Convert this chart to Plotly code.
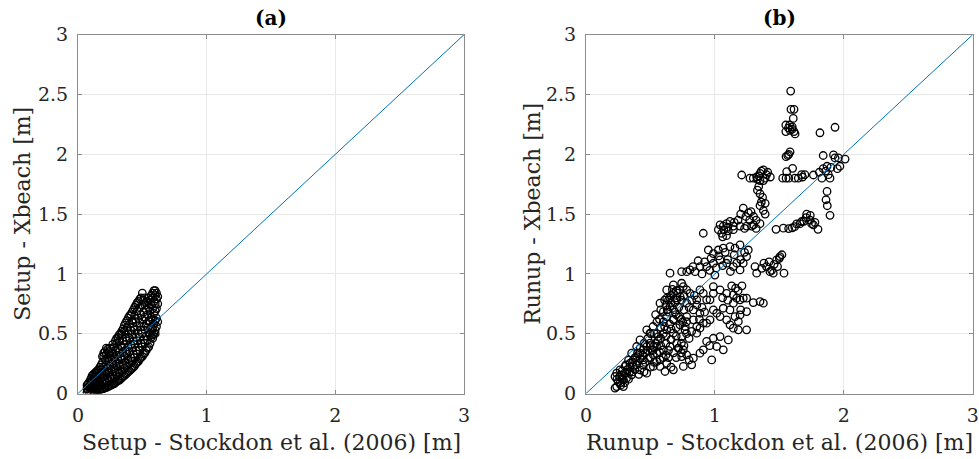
import plotly.graph_objects as go

# ---------------- data ----------------
# panel (a): setup, (Stockdon 2006, Xbeach) pairs
setup_pairs = [
    (0.07, 0.01), (0.07, 0.04), (0.07, 0.07),
    (0.08, 0.02), (0.08, 0.055), (0.08, 0.085),
    (0.09, 0.01), (0.09, 0.05), (0.09, 0.10),
    (0.10, 0.015), (0.10, 0.05), (0.10, 0.085), (0.10, 0.125),
    (0.11, 0.02), (0.11, 0.06), (0.11, 0.11), (0.11, 0.15),
    (0.12, 0.02), (0.12, 0.045), (0.12, 0.09), (0.12, 0.135), (0.12, 0.16),
    (0.13, 0.02), (0.13, 0.07), (0.13, 0.12), (0.13, 0.17),
    (0.14, 0.025), (0.14, 0.05), (0.14, 0.10), (0.14, 0.15), (0.14, 0.18),
    (0.15, 0.03), (0.15, 0.08), (0.15, 0.13), (0.15, 0.19),
    (0.16, 0.03), (0.16, 0.06), (0.16, 0.11), (0.16, 0.17), (0.16, 0.20),
    (0.17, 0.03), (0.17, 0.09), (0.17, 0.15), (0.17, 0.22),
    (0.18, 0.035), (0.18, 0.07), (0.18, 0.13), (0.18, 0.20), (0.18, 0.24),
    (0.19, 0.04), (0.19, 0.10), (0.19, 0.17), (0.19, 0.26), (0.19, 0.31),
    (0.20, 0.04), (0.20, 0.08), (0.20, 0.14), (0.20, 0.22), (0.20, 0.31), (0.20, 0.34),
    (0.21, 0.05), (0.21, 0.11), (0.21, 0.19), (0.21, 0.28), (0.21, 0.35),
    (0.22, 0.05), (0.22, 0.09), (0.22, 0.16), (0.22, 0.24), (0.22, 0.33), (0.22, 0.38),
    (0.23, 0.06), (0.23, 0.13), (0.23, 0.21), (0.23, 0.30), (0.23, 0.37),
    (0.24, 0.06), (0.24, 0.10), (0.24, 0.18), (0.24, 0.27), (0.24, 0.35),
    (0.25, 0.07), (0.25, 0.14), (0.25, 0.23), (0.25, 0.32), (0.25, 0.38),
    (0.26, 0.07), (0.26, 0.12), (0.26, 0.20), (0.26, 0.29), (0.26, 0.37),
    (0.27, 0.08), (0.27, 0.16), (0.27, 0.25), (0.27, 0.34), (0.27, 0.41),
    (0.28, 0.08), (0.28, 0.13), (0.28, 0.21), (0.28, 0.30), (0.28, 0.39),
    (0.29, 0.09), (0.29, 0.18), (0.29, 0.27), (0.29, 0.36), (0.29, 0.44),
    (0.30, 0.10), (0.30, 0.15), (0.30, 0.23), (0.30, 0.32), (0.30, 0.42), (0.30, 0.46),
    (0.31, 0.11), (0.31, 0.20), (0.31, 0.29), (0.31, 0.38), (0.31, 0.47),
    (0.32, 0.11), (0.32, 0.17), (0.32, 0.25), (0.32, 0.35), (0.32, 0.44), (0.32, 0.49),
    (0.33, 0.12), (0.33, 0.22), (0.33, 0.31), (0.33, 0.40), (0.33, 0.50),
    (0.34, 0.13), (0.34, 0.19), (0.34, 0.29), (0.34, 0.39), (0.34, 0.49), (0.34, 0.52),
    (0.35, 0.14), (0.35, 0.24), (0.35, 0.34), (0.35, 0.44), (0.35, 0.54),
    (0.36, 0.15), (0.36, 0.21), (0.36, 0.31), (0.36, 0.41), (0.36, 0.52), (0.36, 0.57),
    (0.37, 0.16), (0.37, 0.26), (0.37, 0.36), (0.37, 0.47), (0.37, 0.59),
    (0.38, 0.17), (0.38, 0.23), (0.38, 0.33), (0.38, 0.44), (0.38, 0.55), (0.38, 0.61),
    (0.39, 0.18), (0.39, 0.28), (0.39, 0.39), (0.39, 0.50), (0.39, 0.63),
    (0.40, 0.19), (0.40, 0.25), (0.40, 0.35), (0.40, 0.46), (0.40, 0.58), (0.40, 0.65),
    (0.41, 0.20), (0.41, 0.30), (0.41, 0.41), (0.41, 0.53), (0.41, 0.66),
    (0.42, 0.21), (0.42, 0.27), (0.42, 0.38), (0.42, 0.49), (0.42, 0.61), (0.42, 0.68),
    (0.43, 0.22), (0.43, 0.33), (0.43, 0.44), (0.43, 0.56), (0.43, 0.70),
    (0.44, 0.23), (0.44, 0.30), (0.44, 0.41), (0.44, 0.53), (0.44, 0.65), (0.44, 0.72),
    (0.45, 0.25), (0.45, 0.36), (0.45, 0.47), (0.45, 0.60), (0.45, 0.74),
    (0.46, 0.26), (0.46, 0.33), (0.46, 0.44), (0.46, 0.56), (0.46, 0.69), (0.46, 0.76),
    (0.47, 0.27), (0.47, 0.39), (0.47, 0.50), (0.47, 0.63), (0.47, 0.77),
    (0.48, 0.29), (0.48, 0.36), (0.48, 0.47), (0.48, 0.59), (0.48, 0.72), (0.48, 0.79),
    (0.49, 0.30), (0.49, 0.42), (0.49, 0.53), (0.49, 0.66), (0.49, 0.80), (0.50, 0.84),
    (0.50, 0.31), (0.50, 0.39), (0.50, 0.50), (0.50, 0.62), (0.50, 0.74),
    (0.51, 0.33), (0.51, 0.45), (0.51, 0.56), (0.51, 0.68), (0.51, 0.78),
    (0.52, 0.34), (0.52, 0.42), (0.52, 0.53), (0.52, 0.64), (0.52, 0.74), (0.52, 0.80),
    (0.53, 0.36), (0.53, 0.48), (0.53, 0.58), (0.53, 0.70), (0.53, 0.76),
    (0.54, 0.38), (0.54, 0.45), (0.54, 0.55), (0.54, 0.66), (0.54, 0.77),
    (0.55, 0.39), (0.55, 0.51), (0.55, 0.61), (0.55, 0.72), (0.55, 0.80),
    (0.56, 0.42), (0.56, 0.50), (0.56, 0.60), (0.56, 0.69), (0.56, 0.78),
    (0.57, 0.47), (0.57, 0.55), (0.57, 0.64), (0.57, 0.74), (0.57, 0.82),
    (0.58, 0.46), (0.58, 0.54), (0.58, 0.62), (0.58, 0.71), (0.58, 0.80), (0.58, 0.84),
    (0.59, 0.50), (0.59, 0.58), (0.59, 0.67), (0.59, 0.77), (0.59, 0.86),
    (0.60, 0.53), (0.60, 0.61), (0.60, 0.69), (0.60, 0.75), (0.60, 0.82), (0.60, 0.86),
    (0.61, 0.56), (0.61, 0.63), (0.61, 0.71), (0.61, 0.79), (0.61, 0.84),
    (0.62, 0.60), (0.62, 0.75), (0.62, 0.81), (0.58, 0.49), (0.60, 0.50),
]

# panel (b): runup, (Stockdon 2006, Xbeach) pairs
runup_pairs = [
    # upper group near 1.6
    (1.588, 2.529), (1.590, 2.376), (1.614, 2.376), (1.608, 2.300),
    (1.550, 2.245), (1.580, 2.245), (1.600, 2.230), (1.550, 2.190),
    (1.584, 2.200), (1.614, 2.190), (1.622, 2.170), (1.600, 2.210),
    (1.570, 2.220), (1.815, 2.180), (1.932, 2.226),
    (1.552, 1.980), (1.573, 2.000), (1.583, 2.020), (1.565, 1.990),
    (1.603, 1.883), (1.557, 1.855), (1.526, 1.800), (1.552, 1.800),
    (1.573, 1.800), (1.620, 1.800), (1.647, 1.800), (1.673, 1.830),
    (1.698, 1.830), (1.680, 1.810), (1.764, 1.827), (1.810, 1.850),
    (1.830, 1.800), (1.840, 1.880), (1.870, 1.900), (1.840, 1.990),
    (1.920, 1.995), (1.932, 1.970), (1.958, 1.970), (2.010, 1.960),
    (1.970, 1.900), (1.950, 1.880), (1.893, 1.800), (1.870, 1.690),
    (1.862, 1.620), (1.872, 1.570), (1.893, 1.490), (1.860, 1.860),
    (1.880, 1.830), (1.900, 1.890),
    # arc below the line near 1.4-1.5
    (1.474, 1.373), (1.531, 1.382), (1.572, 1.379), (1.619, 1.395),
    (1.634, 1.418), (1.673, 1.438), (1.707, 1.470), (1.738, 1.450),
    (1.764, 1.410), (1.800, 1.373), (1.712, 1.500), (1.776, 1.430),
    (1.600, 1.385), (1.660, 1.420), (1.690, 1.440), (1.740, 1.490),
    (1.750, 1.420),
    # group near (1.35, 1.8)
    (1.350, 1.840), (1.376, 1.870), (1.400, 1.830), (1.430, 1.810),
    (1.350, 1.780), (1.324, 1.810), (1.376, 1.780), (1.298, 1.800),
    (1.272, 1.800), (1.208, 1.827), (1.360, 1.860), (1.390, 1.800),
    (1.410, 1.850), (1.340, 1.820), (1.330, 1.790),
    (1.340, 1.730), (1.350, 1.670), (1.360, 1.600), (1.376, 1.530),
    (1.390, 1.500), (1.350, 1.570), (1.390, 1.590), (1.370, 1.640),
    (1.330, 1.700),
    # band near (1.1-1.35, 1.3-1.55)
    (1.220, 1.550), (1.260, 1.510), (1.300, 1.480), (1.320, 1.450),
    (1.350, 1.420), (1.320, 1.380), (1.285, 1.400), (1.246, 1.400),
    (1.195, 1.400), (1.143, 1.400), (1.117, 1.440), (1.091, 1.420),
    (1.065, 1.400), (1.040, 1.410), (1.027, 1.370), (1.052, 1.340),
    (1.104, 1.360), (1.143, 1.370), (1.240, 1.480), (1.280, 1.520),
    (1.180, 1.450), (1.100, 1.390), (1.070, 1.370), (1.200, 1.500),
    (1.300, 1.410), (1.230, 1.380), (1.060, 1.310), (1.090, 1.320),
    (1.150, 1.430), (1.270, 1.450), (0.910, 1.340),
    # around (1.0, 1.0-1.25)
    (0.949, 1.200), (0.988, 1.170), (1.027, 1.200), (1.065, 1.215),
    (1.117, 1.228), (1.156, 1.215), (1.195, 1.242), (1.259, 1.200),
    (1.246, 1.145), (1.220, 1.089), (1.195, 1.033), (1.143, 1.061),
    (1.091, 1.089), (1.040, 1.117), (0.988, 1.089), (0.936, 1.061),
    (0.884, 1.061), (0.846, 1.019), (0.807, 1.033), (0.781, 1.019),
    (0.742, 1.019), (0.960, 1.030), (1.010, 1.050), (1.060, 1.070),
    (1.100, 1.120), (1.150, 1.160), (1.200, 1.120), (1.030, 1.150),
    (0.970, 1.130), (0.920, 1.100), (0.870, 1.110), (0.830, 1.060),
    (1.120, 1.020), (1.170, 1.090), (1.080, 1.180), (1.230, 1.180),
    (0.900, 1.000), (1.000, 0.990), (0.652, 1.006),
    # right of the line near (1.3-1.55, 1.0-1.15)
    (1.311, 1.061), (1.324, 1.006), (1.363, 1.047), (1.400, 1.061),
    (1.427, 1.019), (1.453, 1.006), (1.479, 1.117), (1.505, 1.145),
    (1.536, 1.006), (1.486, 1.061), (1.440, 1.030), (1.500, 1.130),
    (1.380, 1.090), (1.460, 1.080), (1.520, 1.160), (1.420, 1.100),
    (1.298, 0.760), (1.350, 0.769), (1.376, 0.755),
    # below the line near (0.9-1.25, 0.5-0.9)
    (0.988, 0.894), (1.040, 0.866), (1.091, 0.838), (1.143, 0.825),
    (1.169, 0.797), (1.195, 0.783), (1.220, 0.797), (1.246, 0.797),
    (1.143, 0.755), (1.117, 0.699), (1.091, 0.616), (1.117, 0.574),
    (1.143, 0.546), (1.182, 0.532), (1.246, 0.532), (1.182, 0.602),
    (1.156, 0.643), (1.195, 0.657), (1.246, 0.685), (1.040, 0.643),
    (1.065, 0.713), (1.014, 0.671), (0.988, 0.699), (0.962, 0.616),
    (0.936, 0.588), (0.884, 0.546), (0.910, 0.588), (0.859, 0.504),
    (1.100, 0.780), (1.060, 0.800), (1.180, 0.860), (1.130, 0.900),
    (1.200, 0.700), (1.160, 0.880), (1.210, 0.900),
    # lower arm near (0.6-1.1, 0.2-0.5)
    (0.936, 0.435), (0.988, 0.462), (1.040, 0.476), (1.065, 0.365),
    (1.104, 0.448), (1.014, 0.393), (0.975, 0.281), (0.910, 0.365),
    (0.884, 0.337), (0.833, 0.295), (0.781, 0.323), (0.742, 0.309),
    (0.820, 0.240), (0.755, 0.226), (0.678, 0.198), (0.613, 0.184),
    (0.574, 0.226), (0.626, 0.253), (0.960, 0.400), (0.800, 0.280),
    # main cluster near (0.5-1.0, 0.35-0.95)
    (0.574, 0.755), (0.626, 0.797), (0.678, 0.838), (0.729, 0.866),
    (0.755, 0.894), (0.703, 0.783), (0.652, 0.727), (0.600, 0.685),
    (0.626, 0.643), (0.678, 0.616), (0.729, 0.574), (0.768, 0.532),
    (0.742, 0.476), (0.703, 0.421), (0.652, 0.393), (0.600, 0.365),
    (0.548, 0.337), (0.522, 0.393), (0.561, 0.476), (0.626, 0.532),
    (0.678, 0.504), (0.716, 0.379), (0.755, 0.365), (0.781, 0.643),
    (0.833, 0.699), (0.859, 0.783), (0.910, 0.838), (0.936, 0.783),
    (0.884, 0.866), (0.807, 0.838), (0.781, 0.755), (0.833, 0.616),
    (0.859, 0.560), (0.884, 0.671), (0.962, 0.783), (0.988, 0.838),
    (0.626, 0.866), (0.678, 0.908), (0.742, 0.922), (0.781, 0.866),
    (0.550, 0.600), (0.580, 0.550), (0.600, 0.500), (0.650, 0.580),
    (0.700, 0.660), (0.720, 0.720), (0.680, 0.700), (0.640, 0.680),
    (0.660, 0.760), (0.700, 0.800), (0.740, 0.780), (0.760, 0.700),
    (0.800, 0.720), (0.780, 0.600), (0.740, 0.620), (0.700, 0.550),
    (0.660, 0.450), (0.620, 0.420), (0.580, 0.400), (0.700, 0.480),
    (0.740, 0.420), (0.780, 0.500), (0.820, 0.520), (0.800, 0.460),
    (0.760, 0.820), (0.660, 0.820), (0.620, 0.740), (0.580, 0.700),
    (0.540, 0.660), (0.520, 0.560), (0.500, 0.500), (0.560, 0.440),
    (0.860, 0.740), (0.900, 0.720), (0.920, 0.680), (0.880, 0.620),
    (0.820, 0.780), (0.700, 0.860), (0.640, 0.780), (0.600, 0.600),
    (0.680, 0.620), (0.720, 0.380), (0.640, 0.360), (0.680, 0.340),
    (0.760, 0.400), (0.840, 0.820),
    (0.650, 0.800), (0.690, 0.760), (0.710, 0.840), (0.730, 0.810),
    (0.670, 0.870), (0.610, 0.780), (0.630, 0.700), (0.690, 0.680),
    (0.720, 0.640), (0.750, 0.600), (0.770, 0.560), (0.660, 0.540),
    (0.610, 0.560), (0.570, 0.620), (0.530, 0.500),
    # low cluster near (0.2-0.6, 0.0-0.55)
    (0.225, 0.045), (0.238, 0.058), (0.264, 0.086), (0.290, 0.114),
    (0.315, 0.128), (0.277, 0.156), (0.238, 0.170), (0.225, 0.142),
    (0.264, 0.198), (0.303, 0.226), (0.341, 0.253), (0.367, 0.281),
    (0.393, 0.309), (0.419, 0.337), (0.445, 0.365), (0.471, 0.393),
    (0.497, 0.421), (0.367, 0.226), (0.393, 0.240), (0.419, 0.198),
    (0.445, 0.281), (0.484, 0.295), (0.522, 0.323), (0.548, 0.267),
    (0.471, 0.170), (0.522, 0.226), (0.574, 0.281), (0.354, 0.337),
    (0.393, 0.393), (0.419, 0.448), (0.471, 0.532), (0.497, 0.504),
    (0.509, 0.365), (0.548, 0.393), (0.315, 0.170), (0.341, 0.184),
    (0.290, 0.058), (0.354, 0.156),
    (0.250, 0.100), (0.280, 0.120), (0.300, 0.170), (0.320, 0.200),
    (0.340, 0.220), (0.360, 0.180), (0.380, 0.200), (0.400, 0.270),
    (0.420, 0.290), (0.440, 0.320), (0.460, 0.340), (0.480, 0.360),
    (0.500, 0.400), (0.440, 0.240), (0.460, 0.260), (0.500, 0.300),
    (0.520, 0.360), (0.540, 0.420), (0.400, 0.340), (0.380, 0.300),
    (0.360, 0.260), (0.330, 0.280), (0.310, 0.240), (0.280, 0.190),
    (0.260, 0.140), (0.300, 0.090), (0.330, 0.120), (0.420, 0.380),
    (0.450, 0.420), (0.480, 0.460), (0.550, 0.500), (0.570, 0.350),
    (0.600, 0.300), (0.620, 0.320), (0.640, 0.300), (0.660, 0.220),
    (0.700, 0.300), (0.740, 0.340), (0.580, 0.460), (0.620, 0.480),
    (0.240, 0.120), (0.270, 0.070), (0.410, 0.160), (0.450, 0.180),
    (0.500, 0.220), (0.530, 0.260),
]

ref_line = [0, 3]
x_ticks = [0, 1, 2, 3]
y_ticks = [0, 0.5, 1, 1.5, 2, 2.5, 3]
y_tick_text = ["0", "0.5", "1", "1.5", "2", "2.5", "3"]
panel_titles = ["(a)", "(b)"]
x_titles = ["Setup - Stockdon et al. (2006) [m]", "Runup - Stockdon et al. (2006) [m]"]
y_titles = ["Setup - Xbeach [m]", "Runup - Xbeach [m]"]

# ---------------- figure ----------------
W, H = 979, 459
FONT = "DejaVu Serif"
TXT = "#262626"
FRAME = "#8c8c8c"
GRID = "#e8e8e8"
BLUE = "#0072BD"

fig = go.Figure()

for i, pairs in enumerate([setup_pairs, runup_pairs]):
    xa = "x" if i == 0 else "x2"
    ya = "y" if i == 0 else "y2"
    fig.add_trace(go.Scatter(
        x=[p[0] for p in pairs], y=[p[1] for p in pairs],
        mode="markers", xaxis=xa, yaxis=ya,
        marker=dict(symbol="circle-open", size=7.5, color="black",
                    line=dict(width=1.3, color="black")),
        showlegend=False, hoverinfo="skip"))
    fig.add_trace(go.Scatter(
        x=ref_line, y=ref_line, mode="lines", xaxis=xa, yaxis=ya,
        line=dict(color=BLUE, width=1), showlegend=False, hoverinfo="skip"))

x_domains = [[78 / W, 464 / W], [586 / W, 972.7 / W]]
y_domain = [(H - 393.5) / H, (H - 34.7) / H]

axis_common = dict(
    range=[0, 3], showgrid=True, gridcolor=GRID, gridwidth=1,
    zeroline=False, showline=True, linecolor=FRAME, linewidth=1,
    mirror="ticks", ticks="inside", ticklen=4, tickcolor=FRAME,
    tickfont=dict(family=FONT, size=19, color=TXT), automargin=False,
)

for i in range(2):
    sfx = "" if i == 0 else "2"
    fig.update_layout(**{
        "xaxis" + sfx: dict(axis_common, domain=x_domains[i],
                            tickvals=x_ticks, ticktext=[str(t) for t in x_ticks],
                            anchor="y" + sfx, ticklabelstandoff=5),
        "yaxis" + sfx: dict(axis_common, domain=y_domain,
                            tickvals=y_ticks, ticktext=y_tick_text,
                            anchor="x" + sfx, ticklabelstandoff=5),
    })
    cx = (x_domains[i][0] + x_domains[i][1]) / 2
    fig.add_annotation(text="<b>" + panel_titles[i] + "</b>", xref="paper", yref="paper",
                       x=cx, y=1 - 17.5 / H, xanchor="center", yanchor="middle",
                       showarrow=False, font=dict(family=FONT, size=20, color="black"))
    fig.add_annotation(text=x_titles[i], xref="paper", yref="paper",
                       x=cx, y=1 - 442 / H, xanchor="center", yanchor="middle",
                       showarrow=False, font=dict(family=FONT, size=22, color=TXT))
    ytx = 21.7 if i == 0 else 531.7
    fig.add_annotation(text=y_titles[i], xref="paper", yref="paper",
                       x=ytx / W, y=(y_domain[0] + y_domain[1]) / 2,
                       xanchor="center", yanchor="middle", textangle=-90,
                       showarrow=False, font=dict(family=FONT, size=22, color=TXT))

fig.update_layout(width=W, height=H, margin=dict(l=0, r=0, t=0, b=0),
                  paper_bgcolor="white", plot_bgcolor="white")

fig.write_html("out.html", config={"displayModeBar": False},
               post_script="document.body.style.margin='0px';document.body.style.padding='0px';")
